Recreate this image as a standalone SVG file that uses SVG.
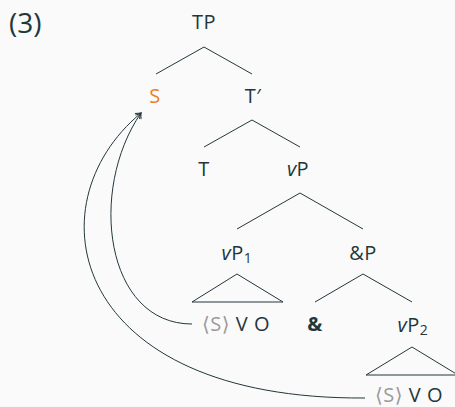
<svg xmlns="http://www.w3.org/2000/svg" width="455" height="407" viewBox="0 0 455 407">
  <style>
    text { font-family: "Open Sans", "DejaVu Sans", sans-serif; font-size: 20px; fill: #23373b; letter-spacing: 0.5px; }
    .mid { text-anchor: middle; }
    .alert { fill: #eb811b; }
    .trace { fill: #9a9a9a; }
    .sub { font-size: 14px; }
    .edge { fill: none; stroke: #23373b; stroke-width: 1; }
    .move { fill: none; stroke: #23373b; stroke-width: 1; marker-end: url(#arr); }
  </style>
  <defs>
    <marker id="arr" markerUnits="userSpaceOnUse" markerWidth="12" markerHeight="12" refX="0" refY="0" viewBox="-7 -6 8 12" orient="auto" overflow="visible">
      <path d="M-5,-3.5 Q-1.5,-0.8 0,0 Q-1.5,0.8 -5,3.5" fill="none" stroke="#23373b" stroke-width="1"/>
    </marker>
  </defs>
  <rect width="455" height="407" fill="#fafafa"/>
  <text x="9" y="33" style="font-size:28px;letter-spacing:0">(3)</text>

  <g id="connectors">
    <path class="edge" d="M156,74 L204,47 L252,74"/>
    <path class="edge" d="M204,147 L252,120 L300,147"/>
    <path class="edge" d="M237,229 L300,193 L363,229"/>
    <path class="edge" d="M192,302 L237,274 L283,302 Z"/>
    <path class="edge" d="M315,302 L363,274 L412,302"/>
    <path class="edge" d="M366,375 L412,347 L458,375 Z"/>
    <path class="move" d="M192,324 C105,324 88,190 141,113"/>
    <path class="move" d="M365,398 C70,400 30,205 141,113"/>
  </g>

  <g id="TP"><text class="mid" x="204" y="29">TP</text></g>
  <g id="S"><text class="mid alert" x="155" y="103">S</text></g>
  <g id="Tbar"><text class="mid" x="253" y="103">T′</text></g>
  <g id="T"><text class="mid" x="204" y="176">T</text></g>
  <g id="vP"><text class="mid" x="298" y="176"><tspan font-style="italic">v</tspan>P</text></g>
  <g id="vP1"><text class="mid" x="237" y="260"><tspan font-style="italic">v</tspan>P<tspan class="sub" dy="3">1</tspan></text></g>
  <g id="andP"><text class="mid" x="363" y="260">&amp;P</text></g>
  <g id="leaf1"><text x="202" y="331"><tspan class="trace">⟨S⟩</tspan> V O</text></g>
  <g id="and"><text class="mid" x="315" y="331" font-weight="bold">&amp;</text></g>
  <g id="vP2"><text class="mid" x="413" y="332"><tspan font-style="italic">v</tspan>P<tspan class="sub" dy="3">2</tspan></text></g>
  <g id="leaf2"><text x="375" y="402"><tspan class="trace">⟨S⟩</tspan> V O</text></g>
</svg>
